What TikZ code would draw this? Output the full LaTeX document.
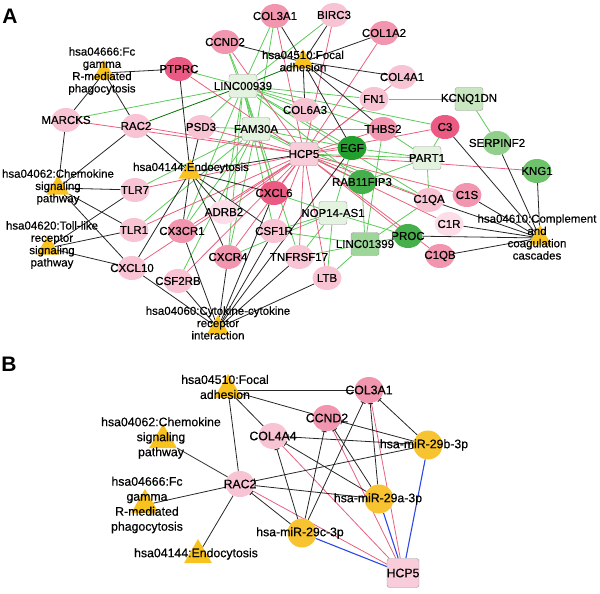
\documentclass[tikz,border=0pt]{standalone}
\usepackage{fontspec}
\setmainfont{Liberation Sans}
\newfontfamily\netfont[FakeBold=0.5]{Liberation Sans}
\usetikzlibrary{shapes.geometric}
\usetikzlibrary{arrows.meta}
\usetikzlibrary{backgrounds}

\definecolor{pkX}{HTML}{FCDDE8}
\definecolor{pkL}{HTML}{F8C3D3}
\definecolor{pkM}{HTML}{F296B0}
\definecolor{pkD}{HTML}{EB5A82}
\definecolor{gnD}{HTML}{22A02E}
\definecolor{gnM}{HTML}{45AF4B}
\definecolor{gnL}{HTML}{6DC26B}
\definecolor{gnX}{HTML}{92CE8C}
\definecolor{lnX}{HTML}{E4F3DF}
\definecolor{lnL}{HTML}{C8E7C1}
\definecolor{lnM}{HTML}{9ED699}
\definecolor{hcpk}{HTML}{F8CCD9}
\definecolor{keggY}{HTML}{F9C31F}
\definecolor{mirY}{HTML}{F8C330}
\definecolor{edG}{HTML}{5CCB59}
\definecolor{edR}{HTML}{E9607E}
\definecolor{edB}{HTML}{2D48E8}

\begin{document}
\begin{tikzpicture}[x=1pt, y=-1pt, font=\netfont\fontsize{11.5}{12.3}\selectfont,
    gene/.style 2 args={ellipse, fill=#1, minimum width=29pt, minimum height=24pt, inner sep=0pt, label=center:{#2}},
    lnc/.style 2 args={rectangle, rounded corners=2.5pt, draw=gray!80, fill=#1, minimum width=28pt, minimum height=23pt, inner sep=0pt, label=center:{#2}},
    kegg/.style={regular polygon, regular polygon sides=3, fill=keggY, minimum size=26pt, inner sep=0pt},
    bgene/.style 2 args={gene={#1}{#2}, minimum width=29pt, minimum height=26pt},
    blnc/.style 2 args={lnc={#1}{#2}, minimum width=32pt, minimum height=29pt},
    bkegg/.style={kegg, minimum size=32pt},
    mir/.style={circle, fill=mirY, minimum size=29pt, inner sep=0pt},
    tag/.style={align=center},
    keggE/.style={black!85, line width=0.8pt},
    lncE/.style={edG, line width=0.8pt},
    hcpE/.style={edR, line width=0.8pt},
    mirE/.style={edB, line width=1.1pt},
    inh/.style={-{Bar[width=5pt, line width=0.9pt]}}]
  \useasboundingbox (0,0) rectangle (600,594);

  % panel A
  \node[font=\fontsize{21}{21}\bfseries] (pa) at (10,16) {A};

  \node[gene={pkM}{COL3A1}] (col3a1) at (275,16) {};
  \node[gene={pkL}{BIRC3}] (birc3) at (334,15) {};
  \node[gene={pkM}{CCND2}] (ccnd2) at (225,42) {};
  \node[gene={pkM}{COL1A2}] (col1a2) at (384,33) {};
  \node[kegg, label={[tag, yshift=1pt]center:{hsa04510:Focal\\adhesion}}] (fa) at (303,62) {};
  \node[kegg, label={[tag, xshift=-2pt, yshift=2pt]center:{hsa04666:Fc\\gamma\\R-mediated\\phagocytosis}}] (fc) at (104,73) {};
  \node[gene={pkD}{PTPRC}] (ptprc) at (179,69) {};
  \node[lnc={lnX}{LINC00939}] (l9) at (243,86) {};
  \node[gene={pkL}{COL4A1}] (col4a1) at (402,77) {};
  \node[gene={pkL}{FN1}] (fn1) at (374,99) {};
  \node[lnc={lnL}{KCNQ1DN}] (kq) at (469,99) {};
  \node[gene={pkL}{COL6A3}] (col6a3) at (305,110) {};
  \node[gene={pkL}{MARCKS}] (marcks) at (66,120) {};
  \node[gene={pkL}{RAC2}] (rac2) at (136,126) {};
  \node[gene={pkL}{PSD3}] (psd3) at (201,127) {};
  \node[lnc={lnX}{FAM30A}] (fm) at (256,129) {};
  \node[gene={pkM}{THBS2}] (thbs2) at (383,129) {};
  \node[gene={pkD}{C3}] (c3) at (445,127) {};
  \node[gene={gnX}{SERPINF2}] (serpinf2) at (497,143) {};
  \node[gene={gnD}{EGF}] (egf) at (352,148) {};
  \node[lnc={hcpk}{HCP5}] (hcp5) at (304,154) {};
  \node[lnc={lnX}{PART1}] (pt) at (427,158) {};
  \node[gene={gnL}{KNG1}] (kng1) at (537,171) {};
  \node[gene={gnM}{RAB11FIP3}] (rab) at (362,182) {};
  \node[kegg, label={[tag, yshift=1pt]center:{hsa04062:Chemokine\\signaling\\pathway}}] (ch) at (58,188) {};
  \node[kegg, label={[tag, xshift=1pt, yshift=4pt]center:{hsa04144:Endocytosis}}] (en) at (190,172) {};
  \node[gene={pkL}{TLR7}] (tlr7) at (135,190) {};
  \node[gene={pkD}{CXCL6}] (cxcl6) at (274,193) {};
  \node[gene={pkM}{C1S}] (c1s) at (467,195) {};
  \node[gene={pkL}{C1QA}] (c1qa) at (429,200) {};
  \node[gene={pkX}{ADRB2}] (adrb2) at (224,212) {};
  \node[lnc={lnX}{NOP14-AS1}] (np) at (333,213) {};
  \node[gene={pkX}{C1R}] (c1r) at (449,224) {};
  \node[gene={pkL}{TLR1}] (tlr1) at (134,230) {};
  \node[gene={pkM}{CX3CR1}] (cx3cr1) at (182,231) {};
  \node[gene={pkL}{CSF1R}] (csf1r) at (274,231) {};
  \node[gene={gnM}{PROC}] (proc) at (408,236) {};
  \node[kegg, label={[tag, xshift=-3pt, yshift=1pt]center:{hsa04610:Complement\\and\\coagulation\\cascades}}] (co) at (540,238) {};
  \node[lnc={lnM}{LINC01399}] (l1) at (365,244) {};
  \node[kegg, label={[tag, xshift=4pt, yshift=3pt]center:{hsa04620:Toll-like\\receptor\\signaling\\pathway}}] (tl) at (48,248) {};
  \node[gene={pkL}{TNFRSF17}] (tnf) at (299,257) {};
  \node[gene={pkM}{CXCR4}] (cxcr4) at (228,257) {};
  \node[gene={pkM}{C1QB}] (c1qb) at (440,256) {};
  \node[gene={pkL}{CXCL10}] (cxcl10) at (132,268) {};
  \node[gene={pkL}{LTB}] (ltb) at (327,278) {};
  \node[gene={pkL}{CSF2RB}] (csf2rb) at (178,281) {};
  \node[kegg, label={[tag, yshift=5pt]center:{hsa04060:Cytokine-cytokine\\receptor\\interaction}}] (cy) at (218,328) {};

  % panel B
  \node[font=\fontsize{21}{21}\bfseries] (pb) at (9,364) {B};

  \begin{scope}[font=\netfont\fontsize{12.3}{15}\selectfont]
    \node[bkegg, label={[tag, xshift=-3pt, yshift=3pt]center:{hsa04510:Focal\\adhesion}}] (b-fa) at (228,390) {};
    \node[bgene={pkM}{COL3A1}] (b-col3a1) at (369,390) {};
    \node[bgene={pkM}{CCND2}] (b-ccnd2) at (327,418) {};
    \node[bgene={pkL}{COL4A4}] (b-col4a4) at (273,436) {};
    \node[mir, label={[xshift=-4pt]center:hsa-miR-29b-3p}] (b-m29b) at (428,445) {};
    \node[bkegg, label={[tag, xshift=-2pt, yshift=2pt]center:{hsa04062:Chemokine\\signaling\\pathway}}] (b-ch) at (163,440) {};
    \node[bgene={pkL}{RAC2}] (b-rac2) at (240,484) {};
    \node[bkegg, label={[tag, xshift=2pt]center:{hsa04666:Fc\\gamma\\R-mediated\\phagocytosis}}] (b-fc) at (145,505) {};
    \node[mir, label={[xshift=-1pt]center:hsa-miR-29a-3p}] (b-m29a) at (379,499) {};
    \node[mir, label={[xshift=-2pt]center:hsa-miR-29c-3p}] (b-m29c) at (302,533) {};
    \node[bkegg, label={[tag, xshift=-2pt, yshift=1pt]center:{hsa04144:Endocytosis}}] (b-en) at (198,555) {};
    \node[blnc={hcpk}{HCP5}] (b-hcp5) at (403,573) {};
  \end{scope}

  \begin{scope}[on background layer]
    % lncRNA - gene
    \foreach \g in {col3a1,birc3,ccnd2,ptprc,marcks,col6a3,fn1,thbs2,egf,c3,psd3,cxcl6,adrb2,cx3cr1,cxcr4,csf1r,tnf,c1qa,rab}
      \draw[lncE] (l9) -- (\g);
    \foreach \g in {col3a1,ccnd2,psd3,tlr7,tlr1,cx3cr1,cxcr4,csf2rb,egf,cxcl6,c1qa,rab,thbs2}
      \draw[lncE] (fm) -- (\g);
    \foreach \g in {fn1,serpinf2}
      \draw[lncE] (kq) -- (\g);
    \foreach \g in {c3,egf,c1qa,thbs2,rab,hcp5}
      \draw[lncE] (pt) -- (\g);
    \foreach \g in {ltb,csf1r,cxcl6,proc,tnf,cxcr4,egf}
      \draw[lncE] (np) -- (\g);
    \foreach \g in {ltb,proc,thbs2,rab,c1qa,csf1r,tnf}
      \draw[lncE] (l1) -- (\g);
    \draw[lncE, green!45!black] (l9) -- (fa);
    \draw[lncE, green!45!black] (l9) -- (rac2);
    % HCP5 - gene
    \foreach \g in {col3a1,birc3,col1a2,ccnd2,ptprc,marcks,rac2,psd3,col4a1,fn1,thbs2,c3,egf,kng1,c1s,c1qa,c1r,c1qb,proc,tlr7,tlr1,cx3cr1,cxcl6,adrb2,csf1r,cxcr4,tnf,ltb,csf2rb,cxcl10,rab}
      \draw[hcpE] (hcp5) -- (\g);
    % pathway - gene
    \foreach \g in {col3a1,birc3,col1a2,ccnd2,col4a1,fn1,thbs2,egf,col6a3}
      \draw[keggE] (fa) -- (\g);
    \foreach \g in {ptprc,marcks,rac2}
      \draw[keggE] (fc) -- (\g);
    \foreach \g in {marcks,rac2,tlr7,tlr1,cxcl10}
      \draw[keggE] (ch) -- (\g);
    \foreach \g in {tlr7,tlr1,cxcl10}
      \draw[keggE] (tl) -- (\g);
    \foreach \g in {rac2,psd3,ptprc,hcp5,cxcl6,adrb2,csf1r,cxcr4,cx3cr1,cxcl10}
      \draw[keggE] (en) -- (\g);
    \foreach \g in {cxcl10,csf2rb,cx3cr1,cxcr4,csf1r,cxcl6,tnf,ltb,egf}
      \draw[keggE] (cy) -- (\g);
    \foreach \g in {c3,serpinf2,kng1,c1s,c1qa,c1r,proc,c1qb}
      \draw[keggE] (co) -- (\g);

    % panel B edges
    \foreach \g in {b-col3a1,b-ccnd2,b-col4a4,b-rac2}
      \draw[keggE] (b-fa) -- (\g);
    \foreach \k in {b-ch,b-fc,b-en}
      \draw[keggE] (\k) -- (b-rac2);
    \foreach \g in {b-col3a1,b-ccnd2,b-col4a4,b-rac2}
      \draw[hcpE] (b-hcp5) -- (\g);
    \foreach \m in {b-m29b,b-m29a,b-m29c}{
      \foreach \g in {b-col3a1,b-ccnd2,b-col4a4,b-rac2}
        \draw[keggE, inh] (\m) -- (\g);
      \draw[mirE] (\m) -- (b-hcp5);
    }
  \end{scope}
\end{tikzpicture}
\end{document}
